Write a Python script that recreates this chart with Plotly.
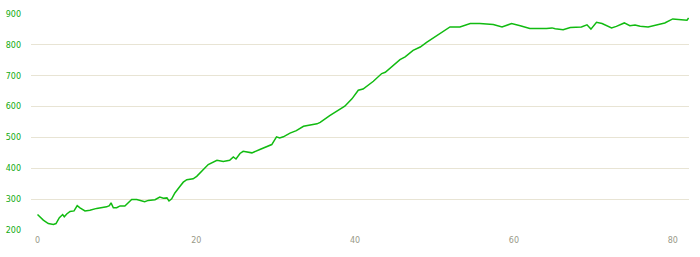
import plotly.graph_objects as go

distance = [0, 0.73, 1.36, 2.0, 2.33, 2.75, 3.17, 3.37, 3.68, 4.1, 4.6, 5.0, 5.35, 5.98, 6.6, 7.45, 8.7,
            9.05, 9.26, 9.55, 9.97, 10.4, 11.0, 11.86, 12.5, 13.5, 13.95, 14.8, 15.4, 15.85, 16.3, 16.56,
            16.9, 17.3, 17.95, 18.36, 18.8, 19.6, 20.05, 20.5, 21.5, 22.6, 23.4, 24.2, 24.66, 25.0, 25.5,
            25.9, 27.0, 28.0, 29.1, 29.5, 30.1, 30.5, 30.96, 31.8, 32.6, 33.5, 35.2, 35.6, 36.8, 38.7,
            39.6, 40.4, 41.0, 42.3, 43.35, 43.8, 45.65, 46.3, 47.3, 48.2, 49.0, 50.7, 51.95, 53.2, 54.5,
            55.7, 57.4, 58.5, 59.7, 60.8, 62.0, 64.1, 64.8, 65.2, 66.2, 67.1, 67.9, 68.5, 69.2, 69.7,
            70.4, 71.1, 72.3, 72.9, 73.9, 74.6, 75.25, 75.9, 76.9, 78.0, 79.0, 80.0, 80.9, 81.8, 82.0]
elevation = [250, 232, 221, 218, 221, 240, 250, 243, 252, 260, 262, 279, 272, 262, 264, 270, 275,
             279, 288, 272, 272, 278, 278, 299, 299, 292, 296, 298, 307, 303, 304, 294,
             301, 320, 342, 355, 363, 366, 374, 385, 412, 426, 422, 426, 437, 430, 448,
             455, 450, 461, 473, 477, 502, 498, 502, 514, 522, 536, 544, 549, 571, 601,
             625, 653, 657, 682, 707, 711, 752, 761, 782, 793, 808, 838, 858, 858, 869,
             869, 866, 858, 869, 862, 853, 853, 855, 852, 849, 856, 856, 858, 865, 851,
             873, 869, 855, 860, 871, 862, 864, 860, 858, 864, 871, 884, 882, 880, 887]

x_ticks = [0, 20, 40, 60, 80]
y_ticks = [200, 300, 400, 500, 600, 700, 800, 900]

fig = go.Figure()
fig.add_trace(go.Scatter(x=distance, y=elevation, mode="lines",
                         line=dict(color="#11bb11", width=1.5), hoverinfo="skip"))

fig.update_layout(
    width=700, height=257,
    margin=dict(l=31, r=11, t=14, b=26.5),
    paper_bgcolor="white", plot_bgcolor="white",
    showlegend=False,
    font=dict(family="DejaVu Sans", size=8),
)
fig.update_xaxes(range=[-0.82, 82.05], tickvals=x_ticks, showgrid=False, zeroline=False,
                 showline=False, tickfont=dict(color="#999988", size=8), ticks="",
                 ticklabelstandoff=4, automargin=False)
fig.update_yaxes(range=[200, 900], tickvals=y_ticks, showgrid=True, gridcolor="#e8e4d4",
                 gridwidth=1, zeroline=False, showline=False,
                 tickfont=dict(color="#11aa11", size=8), ticks="",
                 ticklabelstandoff=9, automargin=False)

fig.write_html("out.html")
